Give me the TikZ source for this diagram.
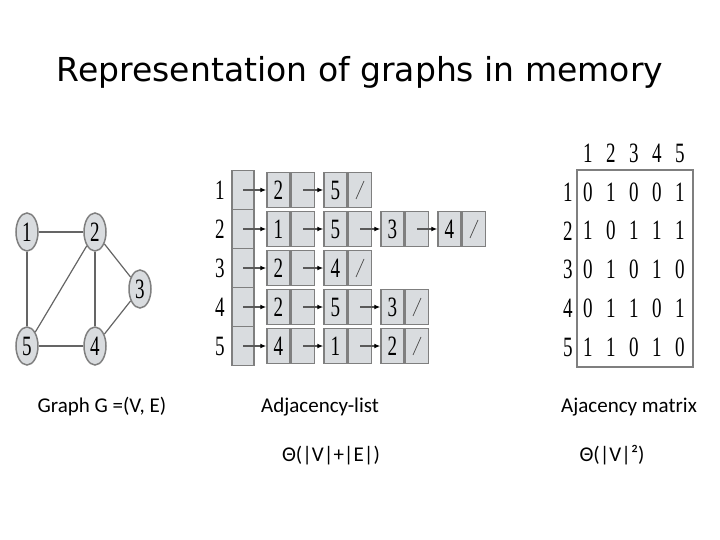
\documentclass[tikz,border=0pt]{standalone}
\usepackage{fontspec}
\usepackage{graphicx}
\usepackage{tikz}
\usetikzlibrary{positioning,arrows.meta,shapes.geometric}
\usepackage{xcolor}
\setmainfont{Carlito}
\newfontfamily\titlefont{DejaVu Sans}
\newfontfamily\digitfont{Liberation Serif}
\newcommand{\dg}[1]{\scalebox{0.68}[1]{\digitfont\fontsize{28}{28}\selectfont #1}}
\definecolor{cellfill}{HTML}{D9DCDF}
\definecolor{celledge}{HTML}{7F7F7F}

\begin{document}
\begin{tikzpicture}[x=1pt,y=-1pt,
  vtx/.style={ellipse, draw=celledge, fill=cellfill, line width=1.5pt,
    minimum width=22pt, minimum height=38pt, inner sep=0pt},
  edge/.style={celledge!80!black, line width=1.2pt},
  heavy/.style={edge, line width=2.5pt},
  headcell/.style={draw=celledge, fill=cellfill, line width=1.5pt,
    minimum width=22pt, minimum height=39pt, inner sep=0pt},
  keycell/.style={draw=celledge, fill=cellfill, line width=1.5pt,
    minimum width=23pt, minimum height=35pt, inner sep=0pt},
  ptrcell/.style={keycell},
  link/.style={draw=gray!70!black, line width=1.5pt,
    -{Latex[length=6pt,width=5pt,black]}},
  caption/.style={font=\fontsize{21}{21}\selectfont, anchor=base}]

\useasboundingbox (0,0) rectangle (720,540);

% タイトル
\node[anchor=base, font=\titlefont\fontsize{33}{33}\selectfont] (title) at (360,82)
  {Representation of graphs in memory};

% グラフ G
\node[vtx] (v1) at (27,232) {\dg{1}};
\node[vtx] (v2) at (95,232) {\dg{2}};
\node[vtx] (v3) at (140,289) {\dg{3}};
\node[vtx] (v5) at (27,346) {\dg{5}};
\node[vtx] (v4) at (95,346) {\dg{4}};
\draw[heavy] (v1) -- (v2);
\draw[heavy] (v5) -- (v4);
\draw[edge] (v1) -- (v5);
\draw[edge] (v2) -- (v5);
\draw[edge] (v2) -- (v4);
\draw[edge] (v2) -- (v3);
\draw[edge] (v3) -- (v4);

% 隣接リスト
\foreach \r/\n/\adj in {1/2/{2,5}, 2/4/{1,5,3,4}, 3/2/{2,4}, 4/3/{2,5,3}, 5/3/{4,1,2}} {
  \pgfmathsetmacro{\yy}{190+39*(\r-1)}
  \node (lab-\r) at (220,\yy) {\dg{\r}};
  \node[headcell] (h-\r) at (243,\yy) {};
  \coordinate (hs-\r) at (243,\yy);
  \foreach \v [count=\i, remember=\i as \j (initially 0)] in \adj {
    \pgfmathsetmacro{\xx}{278.5+57*(\i-1)}
    \node[keycell] (k-\r-\i) at (\xx,\yy) {\dg{\v}};
    \node[ptrcell, right=0pt of k-\r-\i] (p-\r-\i) {};
    \ifnum\i=1
      \draw[link] (hs-\r) -- (k-\r-\i.west);
    \else
      \draw[link] (p-\r-\j.center) -- (k-\r-\i.west);
    \fi
    \ifnum\i=\n
      \draw[gray!70!black, line width=0.8pt] ([shift={(-4pt,-9pt)}]p-\r-\i.center)
        -- ([shift={(4pt,9pt)}]p-\r-\i.center);
    \fi
  }
}

% 隣接行列
\draw[celledge, line width=2pt] (577,170) rectangle (693,367);
\foreach \c in {1,...,5}
  \node (col-\c) at ({588+23*(\c-1)},153) {\dg{\c}};
\foreach \r/\row in {1/{0,1,0,0,1}, 2/{1,0,1,1,1}, 3/{0,1,0,1,0}, 4/{0,1,1,0,1}, 5/{1,1,0,1,0}} {
  \pgfmathsetmacro{\yy}{192+38.75*(\r-1)}
  \node (row-\r) at (568,\yy) {\dg{\r}};
  \foreach \e [count=\c] in \row
    \node (m-\r-\c) at ({588+23*(\c-1)},\yy) {\dg{\e}};
}

% ラベル
\node[caption] (capG) at (102,412) {Graph G =(V, E)};
\node[caption] (capL) at (320,412) {Adjacency-list};
\node[caption] (capM) at (629,412) {Ajacency matrix};
\node[caption] (costL) at (331,461) {Θ(|V|+|E|)};
\node[caption] (costM) at (612,461) {Θ(|V|²)};
\end{tikzpicture}
\end{document}
